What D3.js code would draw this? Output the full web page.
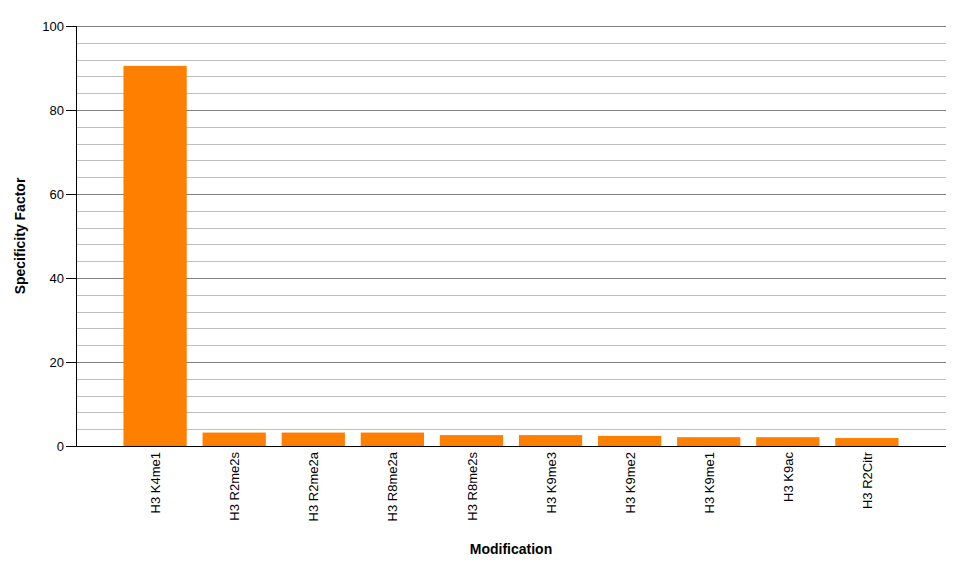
<!DOCTYPE html>
<html>
<head>
<meta charset="utf-8">
<script src="https://cdn.jsdelivr.net/npm/d3@7"></script>
<style>
  body { margin: 0; background: #fff; }
  text { font-family: "Liberation Sans", Arial, sans-serif; }
</style>
</head>
<body>
<script>
// data
var modifications = ['H3 K4me1', 'H3 R2me2s', 'H3 R2me2a', 'H3 R8me2a', 'H3 R8me2s',
                     'H3 K9me3', 'H3 K9me2', 'H3 K9me1', 'H3 K9ac', 'H3 R2Citr'];
var specificity = [90.5, 3.2, 3.2, 3.2, 2.6, 2.6, 2.4, 2.1, 2.1, 1.9];
var yTicks = [0, 20, 40, 60, 80, 100];

var margin = { top: 26, left: 76, right: 32, bottom: 120 },
    width = 978 - margin.left - margin.right,
    height = 566 - margin.top - margin.bottom;

var svg = d3.select('body')
    .append('svg')
    .attr('width', 978)
    .attr('height', 566)
    .append('g')
    .attr('transform', 'translate(' + margin.left + ',' + margin.top + ')');

var y = d3.scaleLinear()
    .domain([0, 100])
    .range([height, 0]);

var x = d3.scalePoint()
    .domain(modifications)
    .range([0, width])
    .padding(1);

var barW = x.step() * 0.8;

// grid lines, minor every 4, major every 20
var minor = d3.range(0, 101, 4).filter(function(d) { return d % 20 !== 0; });
svg.append('g')
    .selectAll('line')
    .data(minor)
    .enter().append('line')
    .attr('x1', 0).attr('x2', width)
    .attr('y1', function(d) { return Math.round(y(d)) + 0.5; })
    .attr('y2', function(d) { return Math.round(y(d)) + 0.5; })
    .style('stroke', '#c0c0c0');

svg.append('g')
    .selectAll('line')
    .data(yTicks)
    .enter().append('line')
    .attr('x1', 0).attr('x2', width)
    .attr('y1', function(d) { return Math.round(y(d)) + 0.5; })
    .attr('y2', function(d) { return Math.round(y(d)) + 0.5; })
    .style('stroke', '#808080');

svg.append('g')
    .selectAll('rect')
    .data(specificity)
    .enter().append('rect')
    .attr('x', function(d, i) { return x(modifications[i]) - barW / 2; })
    .attr('width', barW)
    .attr('y', function(d) { return y(d); })
    .attr('height', function(d) { return height - y(d); })
    .attr('fill', '#ff8000');

var yAxis = svg.append('g')
    .call(d3.axisLeft(y).tickValues(yTicks).tickSize(10).tickPadding(2));
yAxis.select('.domain').attr('d', 'M0.5,0V' + (height + 0.5));
yAxis.selectAll('text').style('font-size', '13px').style('fill', '#000');

var xAxis = svg.append('g')
    .attr('transform', 'translate(0,' + height + ')')
    .call(d3.axisBottom(x).tickSize(0));
xAxis.select('.domain').attr('d', 'M0,0.5H' + width);
xAxis.selectAll('text')
    .attr('transform', 'rotate(-90)')
    .attr('x', -6)
    .attr('y', 0)
    .attr('dy', '0.35em')
    .style('text-anchor', 'end')
    .style('font-size', '13px')
    .style('fill', '#000');

svg.append('text')
    .attr('transform', 'rotate(-90)')
    .attr('x', -(y(50)))
    .attr('y', -51)
    .style('text-anchor', 'middle')
    .style('font-weight', 'bold')
    .style('font-size', '14px')
    .text('Specificity Factor');

svg.append('text')
    .attr('x', width / 2 - 0)
    .attr('y', height + 108)
    .style('text-anchor', 'middle')
    .style('font-weight', 'bold')
    .style('font-size', '14px')
    .text('Modification');
</script>
</body>
</html>
